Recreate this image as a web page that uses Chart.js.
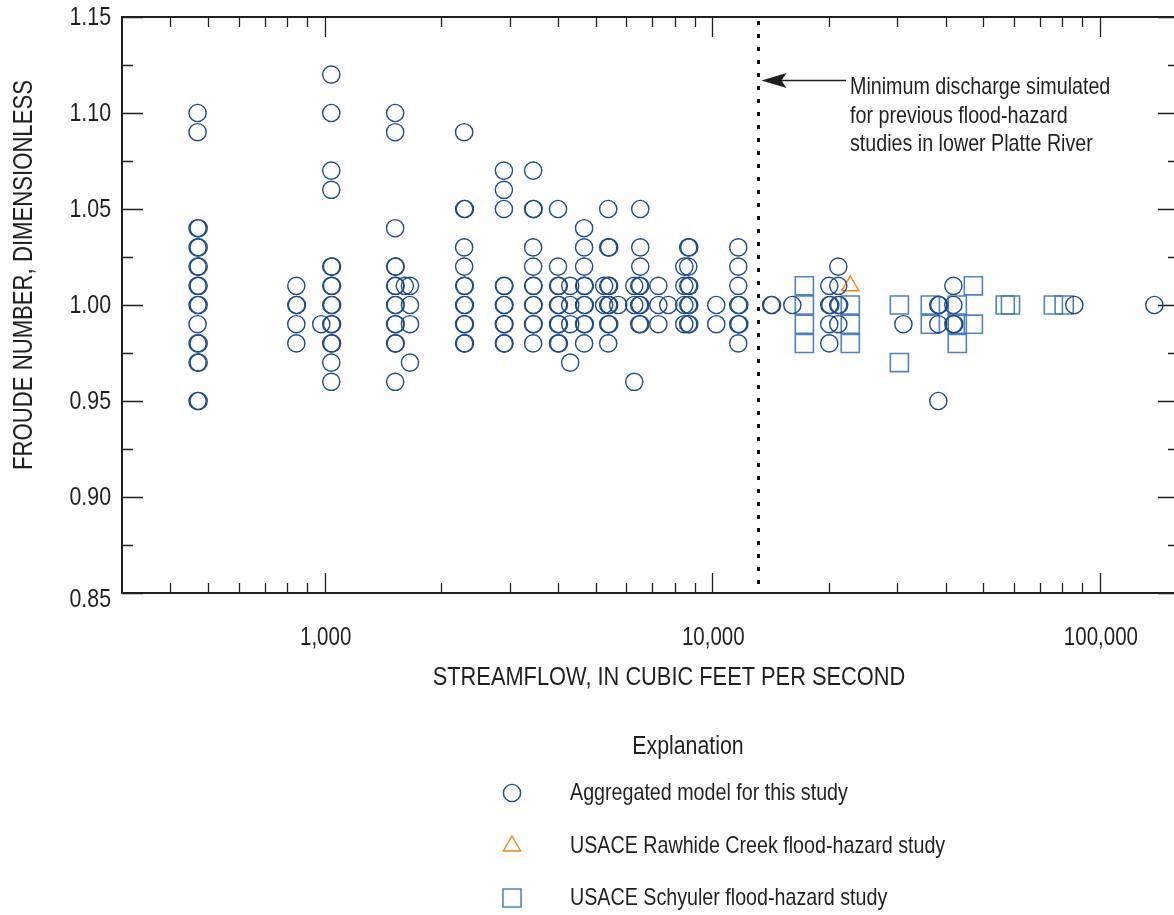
<!DOCTYPE html>
<html><head><meta charset="utf-8">
<script src="https://cdn.jsdelivr.net/npm/chart.js@4"></script>
<style>html,body{margin:0;padding:0;overflow:hidden;background:#fff;width:1174px;height:915px}canvas{display:block}</style>
</head><body>
<canvas id="c" width="1180" height="915"></canvas>
<script>
// ---------------- data ----------------
const aggFlow = [
  470,470,470,473,470,473,470,473,470,473,470,473,470,470,473,470,473,470,473,
  845,845,848,845,845,
  980,
  1040,1040,1040,1040,1040,1045,1040,1045,1040,1045,1040,1045,1040,1045,1040,1040,
  1520,1520,1520,1520,1525,1520,1525,1520,1525,1520,1525,1520,1525,1520,
  1610,
  1660,1660,1660,1660,
  2290,2290,2300,2290,2290,2290,2300,2290,2300,2290,2300,2290,2300,
  2900,2900,2900,2900,2910,2900,2910,2900,2910,2900,2910,
  3450,3450,3460,3450,3450,3450,3460,3450,3460,3450,3460,3450,
  4000,4000,4000,4020,4000,4020,4000,4020,4000,4020,
  4300,4300,4300,4300,
  4670,4670,4670,4670,4690,4670,4690,4670,4690,4670,
  5260,5260,
  5390,5390,5420,5390,5420,5390,5420,5390,5420,5390,
  5720,
  6290,6290,6290,
  6520,6520,6520,6520,6480,6520,6480,6520,6480,
  7260,7260,7260,
  7700,
  8470,8470,8470,8470,
  8670,8720,8670,8670,8720,8670,8720,8670,8720,
  10240,10240,
  11670,11670,11670,11670,11740,11670,11740,11670,
  14190,14260,
  16090,
  20040,20040,20160,20040,20040,
  21140,21140,21140,21250,21140,
  31120,
  38290,38500,38290,38290,
  41880,41880,41880,42100,
  85900,
  138200
];
const aggFroude = [
  1.10,1.09,1.04,1.04,1.03,1.03,1.02,1.02,1.01,1.01,1.00,1.00,0.99,0.98,0.98,0.97,0.97,0.95,0.95,
  1.01,1.00,1.00,0.99,0.98,
  0.99,
  1.12,1.10,1.07,1.06,1.02,1.02,1.01,1.01,1.00,1.00,0.99,0.99,0.98,0.98,0.97,0.96,
  1.10,1.09,1.04,1.02,1.02,1.01,1.01,1.00,1.00,0.99,0.99,0.98,0.98,0.96,
  1.01,
  1.01,1.00,0.99,0.97,
  1.09,1.05,1.05,1.03,1.02,1.01,1.01,1.00,1.00,0.99,0.99,0.98,0.98,
  1.07,1.06,1.05,1.01,1.01,1.00,1.00,0.99,0.99,0.98,0.98,
  1.07,1.05,1.05,1.03,1.02,1.01,1.01,1.00,1.00,0.99,0.99,0.98,
  1.05,1.02,1.01,1.01,1.00,1.00,0.99,0.99,0.98,0.98,
  1.01,1.00,0.99,0.97,
  1.04,1.03,1.02,1.01,1.01,1.00,1.00,0.99,0.99,0.98,
  1.01,1.00,
  1.05,1.03,1.03,1.01,1.01,1.00,1.00,0.99,0.99,0.98,
  1.00,
  1.01,1.00,0.96,
  1.05,1.03,1.02,1.01,1.01,1.00,1.00,0.99,0.99,
  1.01,1.00,0.99,
  1.00,
  1.02,1.01,1.00,0.99,
  1.03,1.03,1.02,1.01,1.01,1.00,1.00,0.99,0.99,
  1.00,0.99,
  1.03,1.02,1.01,1.00,1.00,0.99,0.99,0.98,
  1.00,1.00,
  1.00,
  1.01,1.00,1.00,0.99,0.98,
  1.02,1.01,1.00,1.00,0.99,
  0.99,
  1.00,1.00,0.99,0.95,
  1.01,1.00,0.99,0.99,
  1.00,
  1.00
];
const rawhideFlow = [22700];
const rawhideFroude = [1.01];
const schuylerFlow = [17280,17280,17280,17280, 22700,22700,22700, 30390,30390, 36520,36520, 42870,42870,42870, 47160,47160, 57000,58800, 75860, 80910];
const schuylerFroude = [1.01,1.00,0.99,0.98, 1.00,0.99,0.98, 1.00,0.97, 1.00,0.99, 1.00,0.99,0.98, 1.01,0.99, 1.00,1.00, 1.00, 1.00];

const xLabelTicks = [1000, 10000, 100000];
const xMinorTicks = [400,500,600,700,800,900,2000,3000,4000,5000,6000,7000,8000,9000,20000,30000,40000,50000,60000,70000,80000,90000];
const yMajorTicks = [0.85,0.90,0.95,1.00,1.05,1.10,1.15];
const yMinorTicks = [0.875,0.925,0.975,1.025,1.075,1.125];
const minDischarge = 13100;

const seriesNames = ['Aggregated model for this study','USACE Rawhide Creek flood-hazard study','USACE Schyuler flood-hazard study'];
const annotationLines = ['Minimum discharge simulated','for previous flood-hazard','studies in lower Platte River'];
const xTitle = 'STREAMFLOW, IN CUBIC FEET PER SECOND';
const yTitle = 'FROUDE NUMBER, DIMENSIONLESS';
const legendTitle = 'Explanation';

// ---------------- styling ----------------
const FONT = "'Liberation Sans', Arimo, Arial, sans-serif";
const NARROW = 0.82;   // horizontal condensing to imitate a narrow face
const ink = '#231f20';
const aggColor = '#1f4b8a';
const rawColor = '#f58220';
const schColor = 'rgba(62,116,190,0.9)';
Chart.defaults.font.family = FONT;
Chart.defaults.color = ink;

const zip = (xs, ys) => xs.map((v, i) => ({x: v, y: ys[i]}));

const styles = [
  {pointStyle:'circle', pointRadius:8.6, borderColor:aggColor, borderWidth:1.4},
  {pointStyle:'triangle', pointRadius:10, borderColor:rawColor, borderWidth:1.4},
  {pointStyle:'rect', pointRadius:12.8, borderColor:schColor, borderWidth:1.6}
];

function txt(ctx, s, x, y, size, align, baseline, rot) {
  ctx.save();
  ctx.translate(x, y);
  if (rot) ctx.rotate(rot);
  ctx.scale(NARROW, 1);
  ctx.font = `${size}px ${FONT}`;
  ctx.fillStyle = ink;
  ctx.textAlign = align; ctx.textBaseline = baseline;
  ctx.fillText(s, 0, 0);
  ctx.restore();
}

const decor = {
  id: 'decor',
  beforeDatasetsDraw(chart) {
    const {ctx, chartArea: a, scales: {x, y}} = chart;
    ctx.save();
    ctx.strokeStyle = ink;
    // frame
    ctx.lineWidth = 2;
    ctx.beginPath();
    ctx.moveTo(a.left, a.bottom); ctx.lineTo(a.left, a.top); ctx.lineTo(a.right, a.top);
    ctx.lineTo(a.right, a.bottom); ctx.closePath(); ctx.stroke();
    // ticks (inward)
    ctx.lineWidth = 1.3;
    ctx.beginPath();
    const xt = (v, len) => { const px = Math.round(x.getPixelForValue(v)) + 0.5;
      ctx.moveTo(px, a.top); ctx.lineTo(px, a.top + len);
      ctx.moveTo(px, a.bottom); ctx.lineTo(px, a.bottom - len); };
    const yt = (v, len) => { const py = Math.round(y.getPixelForValue(v)) + 0.5;
      ctx.moveTo(a.left, py); ctx.lineTo(a.left + len, py);
      ctx.moveTo(a.right, py); ctx.lineTo(a.right - len, py); };
    x.ticks.forEach(t => xt(t.value, 20));
    xMinorTicks.forEach(v => xt(v, 10));
    y.ticks.forEach(t => yt(t.value, 21));
    yMinorTicks.forEach(v => yt(v, 11));
    ctx.stroke();
    // tick labels
    x.ticks.forEach(t => txt(ctx, Number(t.value).toLocaleString('en-US'), x.getPixelForValue(t.value) + 1, a.bottom + 45, 25, 'center', 'middle'));
    y.ticks.forEach(t => txt(ctx, Number(t.value).toFixed(2), a.left - 11, y.getPixelForValue(t.value) + (t.value < 0.86 ? 7 : 1), 26, 'right', 'middle'));
    // dotted minimum-discharge line
    const dx = Math.round(x.getPixelForValue(minDischarge)) + 0.5;
    ctx.setLineDash([4, 9]);
    ctx.lineWidth = 3;
    ctx.strokeStyle = '#111';
    ctx.beginPath(); ctx.moveTo(dx, a.top + 4); ctx.lineTo(dx, a.bottom); ctx.stroke();
    ctx.setLineDash([]);
    // arrow
    const ay = 80.5, tip = dx + 3;
    ctx.lineWidth = 1.6; ctx.strokeStyle = ink;
    ctx.beginPath(); ctx.moveTo(tip + 10, ay); ctx.lineTo(846, ay); ctx.stroke();
    ctx.fillStyle = ink;
    ctx.beginPath(); ctx.moveTo(tip, ay); ctx.lineTo(tip + 25, ay - 7.5); ctx.lineTo(tip + 20, ay);
    ctx.lineTo(tip + 25, ay + 7.5); ctx.closePath(); ctx.fill();
    // annotation text
    annotationLines.forEach((t, i) => txt(ctx, t, 850, 94 + i * 28.5, 24, 'left', 'alphabetic'));
    ctx.restore();
  },
  afterDraw(chart) {
    const {ctx} = chart;
    ctx.save();
    // axis titles
    txt(ctx, xTitle, 669, 678, 26.6, 'center', 'middle');
    txt(ctx, yTitle, 25, 275, 27, 'center', 'middle', -Math.PI / 2);
    // legend
    txt(ctx, legendTitle, 688, 747, 26, 'center', 'middle');
    const ys = [793, 846, 898];
    seriesNames.forEach((name, i) => {
      const s = styles[i];
      ctx.strokeStyle = s.borderColor; ctx.lineWidth = s.borderWidth;
      ctx.fillStyle = 'rgba(0,0,0,0)';
      Chart.helpers.drawPoint(ctx, {pointStyle: s.pointStyle, radius: s.pointRadius, borderWidth: s.borderWidth, rotation: 0}, 512, ys[i]);
      txt(ctx, name, 570, ys[i], 24, 'left', 'middle');
    });
    ctx.restore();
  }
};

new Chart(document.getElementById('c'), {
  type: 'scatter',
  data: {
    datasets: [
      Object.assign({label: seriesNames[0], data: zip(aggFlow, aggFroude), backgroundColor: 'rgba(0,0,0,0)'}, styles[0]),
      Object.assign({label: seriesNames[1], data: zip(rawhideFlow, rawhideFroude), backgroundColor: 'rgba(0,0,0,0)'}, styles[1]),
      Object.assign({label: seriesNames[2], data: zip(schuylerFlow, schuylerFroude), backgroundColor: 'rgba(0,0,0,0)'}, styles[2])
    ]
  },
  options: {
    responsive: false,
    animation: false,
    events: [],
    layout: {autoPadding: false, padding: {top: 17, right: 1, bottom: 0, left: 0}},
    plugins: {legend: {display: false}, tooltip: {enabled: false}},
    scales: {
      x: {
        type: 'logarithmic', min: 300, max: 160000, position: 'bottom',
        afterBuildTicks: s => { s.ticks = xLabelTicks.map(v => ({value: v})); },
        afterFit: s => { s.height = 322; },
        grid: {display: false, drawTicks: false}, border: {display: false},
        ticks: {display: false}
      },
      y: {
        min: 0.85, max: 1.15,
        afterBuildTicks: s => { s.ticks = yMajorTicks.map(v => ({value: v})); },
        afterFit: s => { s.width = 122; },
        grid: {display: false, drawTicks: false}, border: {display: false},
        ticks: {display: false}
      }
    }
  },
  plugins: [decor]
});
</script>
</body></html>
